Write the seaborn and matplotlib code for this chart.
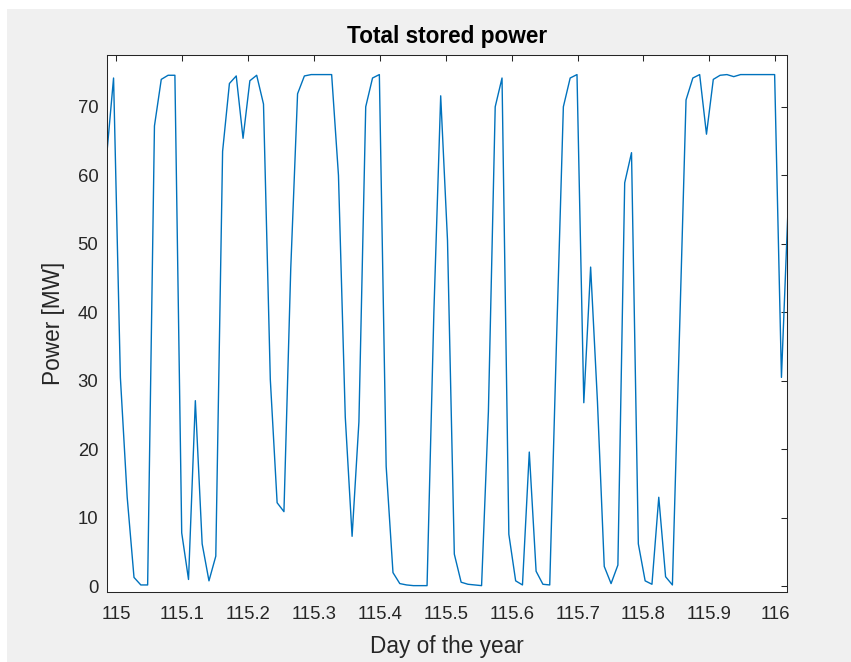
import numpy as np
import pandas as pd
import matplotlib
matplotlib.use("Agg")
import matplotlib.pyplot as plt
import seaborn as sns
from matplotlib.patches import Rectangle

# ---- data ----
t_first = 114.98557   # day of year of the first sample
t_step = 0.010341     # days between samples (about 15 min)

power_mw = [
    63.0,
    74.2, 30.5, 13.0, 1.3, 0.2, 0.2, 67.2, 74.0, 74.6, 74.6,
    7.8, 1.0, 27.1, 6.2, 0.8, 4.4, 63.5, 73.4, 74.5, 65.4,
    73.8, 74.6, 70.4, 30.2, 12.2, 10.9, 46.4, 71.9, 74.5, 74.7,
    74.7, 74.7, 74.7, 60.0, 24.7, 7.3, 24.0, 70.0, 74.2, 74.7,
    17.5, 2.0, 0.4, 0.2, 0.1, 0.1, 0.1, 40.0, 71.6, 50.5,
    4.7, 0.6, 0.3, 0.2, 0.1, 25.5, 70.0, 74.2, 7.6, 0.8,
    0.2, 19.6, 2.2, 0.3, 0.2, 36.0, 70.0, 74.2, 74.7, 26.8,
    46.6, 27.0, 2.9, 0.4, 3.1, 58.9, 63.3, 6.2, 0.8, 0.3,
    13.0, 1.4, 0.2, 35.5, 71.0, 74.2, 74.7, 66.0, 74.0, 74.6,
    74.7, 74.4, 74.7, 74.7, 74.7, 74.7, 74.7, 74.7, 30.5, 56.0,
]

x_ticks = [115.0, 115.1, 115.2, 115.3, 115.4, 115.5, 115.6, 115.7, 115.8, 115.9, 116.0]
x_tick_labels = ["115", "115.1", "115.2", "115.3", "115.4", "115.5",
                 "115.6", "115.7", "115.8", "115.9", "116"]
y_ticks = [0, 10, 20, 30, 40, 50, 60, 70]

day = t_first + t_step * np.arange(len(power_mw))
df = pd.DataFrame({"day": day, "power": power_mw})

# ---- style ----
sns.set_theme(style="white")
plt.rcParams["font.family"] = ["Liberation Sans", "DejaVu Sans"]
dark = "#262626"

fig = plt.figure(figsize=(8.51, 6.62), dpi=100, facecolor="white")
fig.patches.append(Rectangle((6.5 / 851, 0), 1, 1 - 9 / 662,
                             transform=fig.transFigure, facecolor="#f0f0f0",
                             edgecolor="none", zorder=-10))
ax = fig.add_axes([0.12538, 0.10604, 0.79976, 0.81027])
ax.set_facecolor("white")

sns.lineplot(data=df, x="day", y="power", ax=ax, color="#0072BD",
             linewidth=1.0, sort=False, estimator=None)

ax.set_xlim(114.9855, 116.0182)
ax.set_ylim(-0.8, 77.5)
ax.set_xticks(x_ticks)
ax.set_xticklabels(x_tick_labels)
ax.set_yticks(y_ticks)

for s in ax.spines.values():
    s.set_visible(True)
    s.set_color(dark)
    s.set_linewidth(0.75)

ax.tick_params(axis="both", direction="in", top=True, right=True,
               length=4, width=0.75, color=dark, labelcolor=dark,
               labelsize=13.3)
ax.tick_params(axis="x", pad=10)
ax.tick_params(axis="y", pad=6)

ax.set_xlabel("Day of the year", fontsize=16.3, color=dark, labelpad=9)
ax.set_ylabel("Power [MW]", fontsize=16.3, color=dark, labelpad=9)
ax.set_title("Total stored power", fontsize=16.3, fontweight="bold",
             color="black", pad=9)

fig.savefig("out.png", dpi=100, facecolor=fig.get_facecolor())
